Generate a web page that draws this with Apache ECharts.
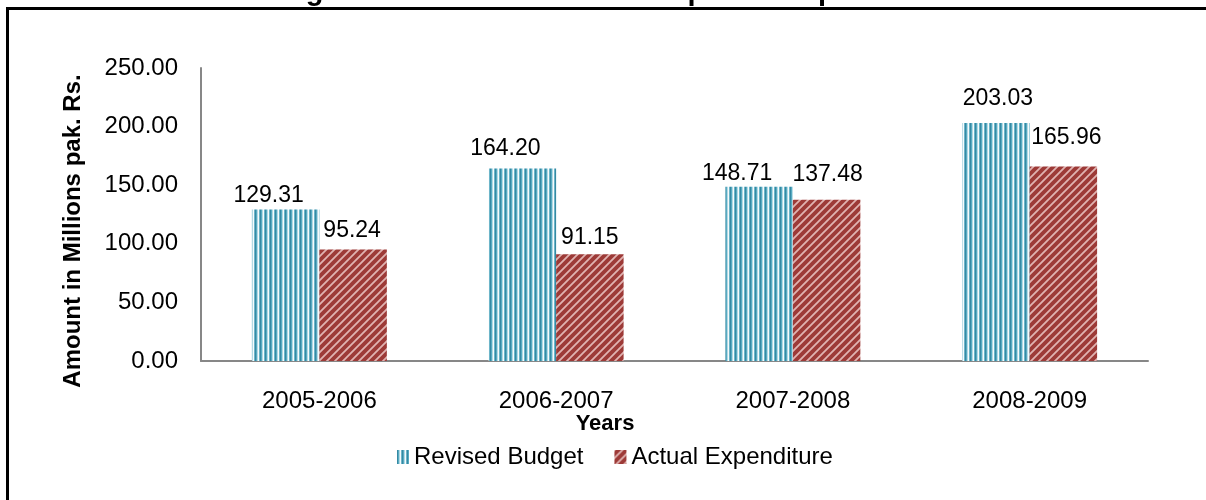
<!DOCTYPE html>
<html>
<head>
<meta charset="utf-8">
<script src="https://cdn.jsdelivr.net/npm/echarts@6/dist/echarts.min.js"></script>
<style>
  html, body { margin: 0; padding: 0; background: #ffffff; }
  #chart { width: 1206px; height: 500px; }
</style>
</head>
<body>
<div id="chart"></div>
<script>
// Development expenditure per fiscal year (million Pak. Rs.)
const years = ['2005-2006', '2006-2007', '2007-2008', '2008-2009'];
const revisedBudget = [129.31, 164.20, 148.71, 203.03];
const actualExpenditure = [95.24, 91.15, 137.48, 165.96];
const seriesNames = ['Revised Budget', 'Actual Expenditure'];
const yTicks = { min: 0, max: 250, step: 50 };
const titleText = 'Figure 5: Utilization of Development Expenditure';

// Hand-placed data label nudges [dx, dy] in px, per bar
const revisedLabelShift = [[-17, 3], [-17, -3], [-22, 3], [2, -8]];
const actualLabelShift = [[-1, -2], [0, 0], [1, -9], [3, -12]];

// Vertical teal stripes
function stripeTile() {
  const c = document.createElement('canvas');
  c.width = 5; c.height = 10;
  const g = c.getContext('2d');
  const cols = ['#3689A3', '#57ABC2', '#B3D9E4', '#F6FBFC', '#6DB5C9'];
  cols.forEach((col, i) => { g.fillStyle = col; g.fillRect(i, 0, 1, 10); });
  return c;
}

// Dark red with light diagonal hatching
function hatchTile() {
  const s = 8;
  const c = document.createElement('canvas');
  c.width = s; c.height = s;
  const g = c.getContext('2d');
  g.fillStyle = '#9D3A37';
  g.fillRect(0, 0, s, s);
  g.strokeStyle = '#E0B3B1';
  g.lineWidth = 1.8;
  g.beginPath();
  g.moveTo(-2, s + 2); g.lineTo(s + 2, -2);
  g.moveTo(-2, 2); g.lineTo(2, -2);
  g.moveTo(s - 2, s + 2); g.lineTo(s + 2, s - 2);
  g.stroke();
  return c;
}

const chart = echarts.init(document.getElementById('chart'), null, { renderer: 'canvas' });
const font = '"Liberation Sans", Arial, sans-serif';

function labelled(values, shifts) {
  return values.map((v, i) => ({
    value: v,
    label: { offset: shifts[i] }
  }));
}

const labelStyle = {
  show: true,
  position: 'top',
  distance: 5,
  fontFamily: font,
  fontSize: 23,
  color: '#000',
  formatter: p => p.value.toFixed(2)
};

chart.setOption({
  animation: false,
  backgroundColor: '#ffffff',
  textStyle: { fontFamily: font },
  graphic: [
    {
      type: 'rect',
      shape: { x: 7.5, y: 8.5, width: 1300, height: 600 },
      style: { fill: 'none', stroke: '#000', lineWidth: 3 },
      silent: true
    },
    {
      type: 'text',
      x: 615, y: 6,
      style: {
        text: titleText,
        fontFamily: font,
        fontWeight: 'bold',
        fontSize: 29,
        fill: '#000',
        align: 'center',
        verticalAlign: 'bottom'
      },
      silent: true
    },
    {
      type: 'text',
      x: 73, y: 231,
      rotation: Math.PI / 2,
      style: {
        text: 'Amount in Millions pak. Rs.',
        fontFamily: font,
        fontWeight: 'bold',
        fontSize: 24,
        fill: '#000',
        align: 'center',
        verticalAlign: 'middle'
      },
      silent: true
    },
    {
      type: 'text',
      x: 605, y: 424,
      style: {
        text: 'Years',
        fontFamily: font,
        fontWeight: 'bold',
        fontSize: 22,
        fill: '#000',
        align: 'center',
        verticalAlign: 'middle'
      },
      silent: true
    }
  ],
  legend: {
    left: 392,
    top: 440,
    itemWidth: 12,
    itemHeight: 14,
    itemGap: 31,
    icon: 'rect',
    textStyle: { fontFamily: font, fontSize: 24, color: '#000' },
    data: seriesNames
  },
  grid: { left: 201, right: 58, top: 68, bottom: 139, containLabel: false },
  xAxis: {
    type: 'category',
    data: years,
    axisLine: { lineStyle: { color: '#878787', width: 2 } },
    axisTick: { show: false },
    axisLabel: { fontFamily: font, fontSize: 24, color: '#000', margin: 28 }
  },
  yAxis: {
    type: 'value',
    min: yTicks.min,
    max: yTicks.max,
    interval: yTicks.step,
    axisLine: { show: true, lineStyle: { color: '#878787', width: 2 } },
    axisTick: { show: false },
    splitLine: { show: false },
    axisLabel: {
      fontFamily: font, fontSize: 24, color: '#000', margin: 23,
      formatter: v => v.toFixed(2)
    }
  },
  series: [
    {
      name: seriesNames[0],
      type: 'bar',
      data: labelled(revisedBudget, revisedLabelShift),
      barGap: '0%',
      barCategoryGap: '43%',
      itemStyle: { color: { image: stripeTile(), repeat: 'repeat' } },
      label: labelStyle
    },
    {
      name: seriesNames[1],
      type: 'bar',
      data: labelled(actualExpenditure, actualLabelShift),
      barGap: '0%',
      barCategoryGap: '43%',
      itemStyle: { color: { image: hatchTile(), repeat: 'repeat' } },
      label: labelStyle
    }
  ]
});
</script>
</body>
</html>
